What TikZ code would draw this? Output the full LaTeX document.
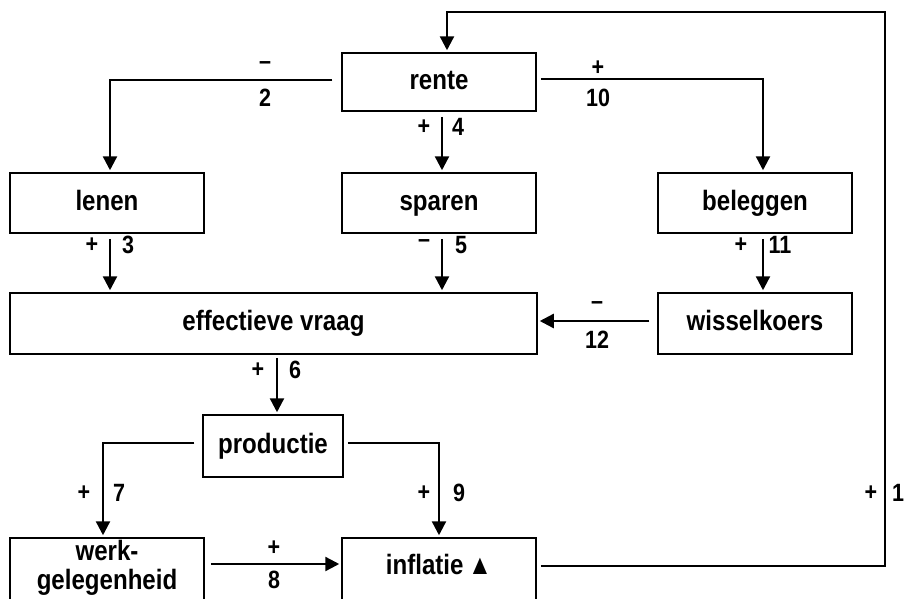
\documentclass[tikz,border=0pt]{standalone}
\usepackage{fontspec}
\setmainfont{Liberation Sans}[FakeStretch=0.86]
\usetikzlibrary{arrows.meta}
\begin{document}
\begin{tikzpicture}[x=1pt,y=-1pt,
  font=\fontsize{28}{30}\selectfont\bfseries,
  box/.style={draw, line width=1.5pt, minimum width=194pt, minimum height=58pt, inner sep=0pt, align=center, text height=20.5pt, text depth=6pt},
  conn/.style={line width=2.4pt, -{Triangle[length=14pt,width=14pt]}, shorten >=2pt},
  lab/.style={inner sep=0pt, font=\fontsize{25}{28}\selectfont\bfseries}]
\useasboundingbox (0,0) rectangle (906,598);
% boxes
\node[box] (rente) at (439,82) {rente};
\node[box, minimum height=60pt] (lenen) at (107,203) {lenen};
\node[box, minimum height=60pt] (sparen) at (439,203) {sparen};
\node[box, minimum height=60pt] (beleggen) at (755,203) {beleggen};
\node[box, minimum width=527pt, minimum height=61pt] (vraag) at (273.5,323.5) {effectieve vraag};
\node[box, minimum height=61pt] (wissel) at (755,323.5) {wisselkoers};
\node[box, minimum width=140pt, minimum height=62pt] (prod) at (273,446) {productie};
\node[box, minimum height=66pt, text height=0pt, text depth=0pt] (werk) at (107,571) {};
\node[align=center, inner sep=0pt] (werktxt) at (107,568) {werk-\\[-1pt]gelegenheid};
\node[box, minimum height=66pt] (infl) at (439,571) {};
\node[inner sep=0pt, text height=20.5pt, text depth=6pt] (infltxt) at (439,567) {inflatie\,▲};
% connectors
\coordinate (tr) at (885,12);
\draw[conn, shorten <=4pt] (infl.east |- 0,566) -| (tr) -| ([xshift=8pt]rente.north);
\draw[conn, shorten <=9pt] (rente.west |- 0,80) -| ([xshift=3pt]lenen.north);
\draw[conn, shorten <=4pt] (rente.east |- 0,79) -| ([xshift=8pt]beleggen.north);
\draw[conn, shorten <=5pt] ([xshift=3pt]rente.south) -- ([xshift=3pt]sparen.north);
\draw[conn, shorten <=5pt] ([xshift=3pt]lenen.south) -- ([xshift=3pt]lenen.south |- vraag.north);
\draw[conn, shorten <=5pt] ([xshift=3pt]sparen.south) -- ([xshift=3pt]sparen.south |- vraag.north);
\draw[conn, shorten <=5pt] ([xshift=8pt]beleggen.south) -- ([xshift=8pt]wissel.north);
\draw[conn, shorten <=8pt] (wissel.west |- 0,321) -- (vraag.east |- 0,321);
\draw[conn, shorten <=3pt] ([xshift=4pt]vraag.south -| prod.north) -- ([xshift=4pt]prod.north);
\draw[conn, shorten <=8pt] (prod.west |- 0,443) -| ([xshift=-4pt]werk.north);
\draw[conn, shorten <=4pt] (prod.east |- 0,443) -| (infl.north);
\draw[conn, shorten <=6pt] (werk.east |- 0,564) -- (infl.west |- 0,564);
% labels
\node[lab] (l2a) at (265,66) {–};
\node[lab] (l2b) at (265,98) {2};
\node[lab] (l10a) at (598,68) {+};
\node[lab] (l10b) at (598,98) {10};
\node[lab] (l4a) at (424,127) {+};
\node[lab] (l4b) at (458,127) {4};
\node[lab] (l3a) at (92,245) {+};
\node[lab] (l3b) at (128,245) {3};
\node[lab] (l5a) at (424,244) {–};
\node[lab] (l5b) at (461,245) {5};
\node[lab] (l11a) at (741,245) {+};
\node[lab] (l11b) at (780,245) {11};
\node[lab] (l12a) at (597,306) {–};
\node[lab] (l12b) at (597,340) {12};
\node[lab] (l6a) at (258,370) {+};
\node[lab] (l6b) at (295,370) {6};
\node[lab] (l7a) at (84,493) {+};
\node[lab] (l7b) at (119,493) {7};
\node[lab] (l9a) at (424,493) {+};
\node[lab] (l9b) at (459,493) {9};
\node[lab] (l8a) at (274,548) {+};
\node[lab] (l8b) at (274,580) {8};
\node[lab] (l1a) at (871,493) {+};
\node[lab] (l1b) at (898,493) {1};
\end{tikzpicture}
\end{document}
